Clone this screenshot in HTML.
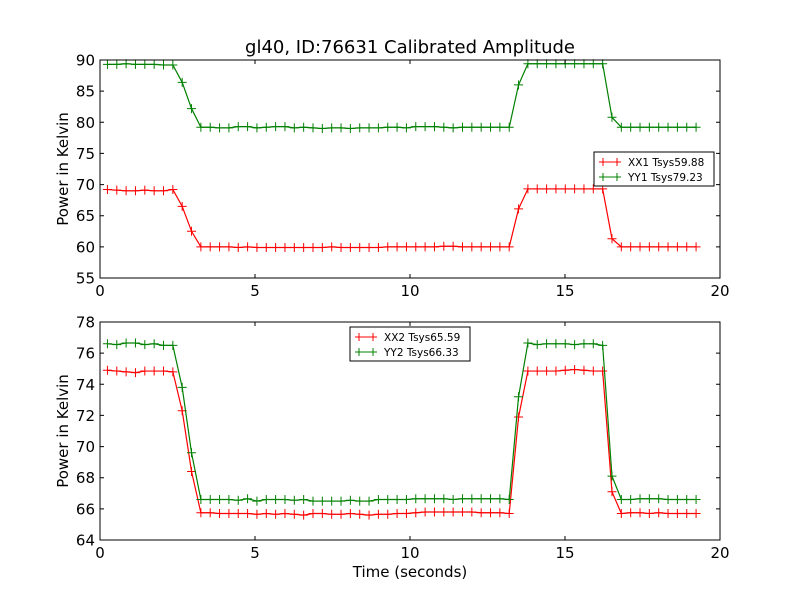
<!DOCTYPE html>
<html><head><meta charset="utf-8"><style>
body{margin:0;background:#fff}
svg{display:block;font-family:"DejaVu Sans","Liberation Sans",sans-serif}
</style></head><body>
<svg id="c" width="800" height="600"></svg>
<script>
const times=[];for(let i=0;i<64;i++)times.push(0.24+0.3014*i);
const xx1=[69.2,69.1,69.0,69.0,69.1,69.0,69.0,69.2,66.5,62.5,
60.0,60.0,60.0,60.0,59.9,60.0,59.9,59.9,59.9,59.9,59.9,59.9,59.9,59.9,60.0,59.9,59.9,59.9,59.9,59.9,60.0,60.0,60.0,60.0,60.0,60.0,60.1,60.1,60.0,60.0,60.0,60.0,60.0,60.0,
66.1,69.3,69.3,69.3,69.3,69.3,69.3,69.3,69.3,69.3,61.3,60.0,60.0,60.0,60.0,60.0,60.0,60.0,60.0,60.0];
const yy1=[89.3,89.3,89.4,89.3,89.3,89.3,89.2,89.2,86.4,82.2,
79.2,79.2,79.1,79.1,79.3,79.3,79.1,79.2,79.3,79.3,79.1,79.2,79.1,79.0,79.1,79.1,79.0,79.1,79.1,79.1,79.2,79.2,79.1,79.3,79.3,79.3,79.2,79.1,79.2,79.2,79.2,79.2,79.2,79.2,
86.0,89.4,89.4,89.4,89.4,89.4,89.4,89.4,89.4,89.4,80.8,79.2,79.2,79.2,79.2,79.2,79.2,79.2,79.2,79.2];
const xx2=[74.9,74.85,74.8,74.75,74.85,74.85,74.85,74.8,72.3,68.4,
65.75,65.75,65.7,65.7,65.7,65.7,65.65,65.7,65.65,65.7,65.65,65.6,65.7,65.7,65.65,65.65,65.7,65.65,65.6,65.65,65.65,65.7,65.7,65.75,65.8,65.8,65.8,65.8,65.8,65.8,65.75,65.75,65.75,65.7,
71.9,74.85,74.85,74.85,74.85,74.9,74.95,74.9,74.85,74.85,67.1,65.7,65.75,65.75,65.7,65.75,65.7,65.7,65.7,65.7];
const yy2=[76.6,76.55,76.65,76.65,76.55,76.6,76.5,76.5,73.8,69.6,
66.6,66.6,66.6,66.6,66.55,66.65,66.5,66.6,66.6,66.6,66.55,66.6,66.5,66.5,66.5,66.5,66.55,66.5,66.5,66.6,66.6,66.6,66.6,66.65,66.65,66.65,66.65,66.6,66.65,66.65,66.65,66.65,66.65,66.6,
73.2,76.65,76.55,76.6,76.6,76.6,76.55,76.6,76.6,76.5,68.1,66.6,66.6,66.65,66.65,66.65,66.6,66.6,66.6,66.6];
const xTicks=[0,5,10,15,20];
const yTicksTop=[55,60,65,70,75,80,85,90];
const yTicksBot=[64,66,68,70,72,74,76,78];

const svg=document.getElementById('c');const NS='http://www.w3.org/2000/svg';
function mk(t,a,p){const e=document.createElementNS(NS,t);for(const k in a)e.setAttribute(k,a[k]);(p||svg).appendChild(e);return e;}
function txt(s,x,y,size,anchor,p){const e=mk('text',{x:x,y:y,'font-size':size,'text-anchor':anchor||'middle',fill:'#000'},p);e.textContent=s;return e;}

function panel(name,top,bottom,ymin,ymax,yTicks,series,legend,showXLabel){
  const L=100,R=720;
  const g=mk('g',{});
  
  
  const sx=v=>L+(v-0)/(20-0)*(R-L);
  const sy=v=>bottom-(v-ymin)/(ymax-ymin)*(bottom-top);
  series.forEach(s=>{
    const sg=mk('g',{},g);
    
    
    const pts=times.map((t,i)=>sx(t).toFixed(2)+','+sy(s.vals[i]).toFixed(2)).join(' ');
    mk('polyline',{points:pts,fill:'none',stroke:s.color,'stroke-width':1.2},sg);
    times.forEach((t,i)=>{const x=sx(t),y=sy(s.vals[i]);
      mk('path',{d:`M${x-4.5},${y}H${x+4.5}M${x},${y-4.5}V${y+4.5}`,stroke:s.color,'stroke-width':1},sg);});
  });
  const fr=mk('rect',{x:L,y:top,width:R-L,height:bottom-top,fill:'none',stroke:'#000','stroke-width':1},g);
  
  
  xTicks.forEach(v=>{const x=sx(v);
    mk('path',{d:`M${x},${bottom}V${bottom-4}M${x},${top}V${top+4}`,stroke:'#000'},g);
    const t=txt(String(v),x,bottom+18,15,'middle',g);
    
    });
  yTicks.forEach(v=>{const y=sy(v);
    mk('path',{d:`M${L},${y}H${L+4}M${R},${y}H${R-4}`,stroke:'#000'},g);
    const t=txt(String(v),L-5,y+5.5,15,'end',g);
    
    });
  const yl=txt('Power in Kelvin',0,0,15,'middle',g);
  yl.setAttribute('transform',`translate(68,${(top+bottom)/2}) rotate(-90)`);
  
  
  if(showXLabel){const xl=txt('Time (seconds)',410,577,15,'middle',g);
    
    }
  const lg=mk('g',{},g);
  
  
  mk('rect',{x:legend.x,y:legend.y,width:legend.w,height:34,fill:'#fff',stroke:'#000','stroke-width':1},lg);
  series.forEach((s,i)=>{const y=legend.y+10+i*15;const x0=legend.x+5;
    const e=mk('g',{},lg);
    
    
    mk('path',{d:`M${x0},${y}H${x0+22}M${x0+4},${y-4}V${y+4}M${x0+18},${y-4}V${y+4}`,stroke:s.color,'stroke-width':1},e);
    txt(s.label,x0+29,y+4,10.5,'start',e);});
}
const title=txt('gl40, ID:76631 Calibrated Amplitude',410,53,18);


panel('top-panel',60,278,55,90,yTicksTop,[{name:'series-xx1',vals:xx1,color:'#ff0000',label:'XX1 Tsys59.88'},{name:'series-yy1',vals:yy1,color:'#008000',label:'YY1 Tsys79.23'}],{x:594,y:152,w:120},false);
panel('bottom-panel',322,540,64,78,yTicksBot,[{name:'series-xx2',vals:xx2,color:'#ff0000',label:'XX2 Tsys65.59'},{name:'series-yy2',vals:yy2,color:'#008000',label:'YY2 Tsys66.33'}],{x:350,y:327,w:120},true);
</script>
</body></html>
